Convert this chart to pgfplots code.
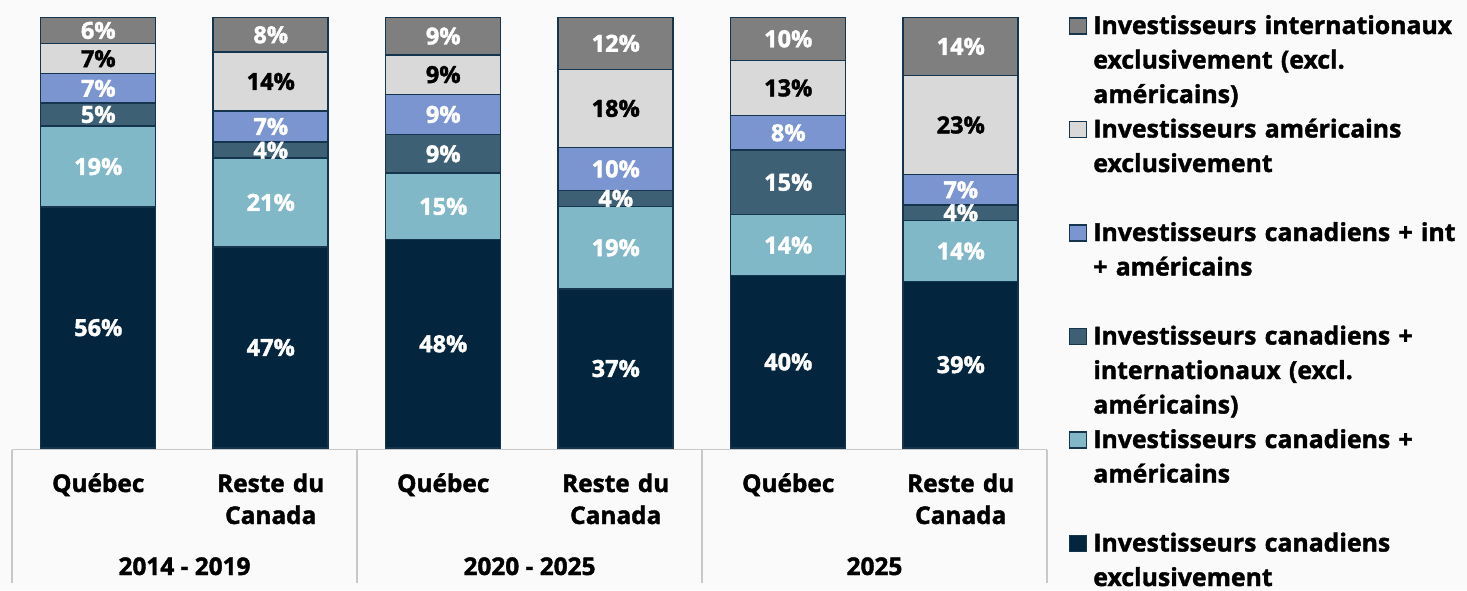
\documentclass[border=0pt]{standalone}
\usepackage{fontspec}
\setmainfont{Open Sans}[BoldFeatures={FakeBold=1.6}]
\usepackage{pgfplots}
\pgfplotsset{compat=1.18}
\usepackage{pgfplotstable}

\definecolor{bgcol}{HTML}{FAFAFA}
\definecolor{navycol}{HTML}{03253E}
\definecolor{tealcol}{HTML}{80B8C7}
\definecolor{slatecol}{HTML}{3E6075}
\definecolor{pericol}{HTML}{7B95D1}
\definecolor{lgraycol}{HTML}{D9D9D9}
\definecolor{graycol}{HTML}{7F7F7F}
\definecolor{bordcol}{HTML}{14354D}
\definecolor{sepcol}{HTML}{C8C8C8}

\pgfplotstableread{
x navy teal slate peri lgray gray
0 55.9 18.9 5.3 6.8 7.0 6.1
1 46.7 20.6 3.7 7.3 13.6 8.1
2 48.4 15.4 9.0 9.3 9.2 8.7
3 36.9 19.2 3.7 10.0 18.1 12.1
4 40.0 14.2 15.0 8.0 12.8 10.0
5 38.7 14.1 3.6 7.1 23.0 13.5
}\datatable

% label positions (segment centres) and texts
\pgfplotstableread{
x y lab
0 27.95 56
0 65.35 19
0 77.45 5
0 83.5 7
0 96.95 6
1 23.35 47
1 57.0 21
1 69.15 4
1 74.65 7
1 95.95 8
2 24.2 48
2 56.1 15
2 68.3 9
2 77.45 9
2 95.65 9
3 18.45 37
3 46.5 19
3 57.95 4
3 64.8 10
3 93.95 12
4 20.0 40
4 47.1 14
4 61.7 15
4 73.2 8
4 95.0 10
5 19.35 39
5 45.75 14
5 54.6 4
5 59.95 7
5 93.25 14
}\whitelabels

\pgfplotstableread{
x y lab
0 90.4 7
1 85.1 14
2 86.7 9
3 78.85 18
4 83.6 13
5 75.0 23
}\blacklabels

\newcommand\lblfont{\fontsize{11.8}{13}\selectfont\bfseries}
\newcommand\tckfont{\fontsize{12.2}{16}\selectfont\bfseries}
\newcommand\lgdfont{\fontsize{12.4}{17.25}\selectfont\bfseries}

\pgfplotsset{
  sqlegend/.style={legend image code/.code={\draw[##1,line width=0.7pt] (0pt,0pt) rectangle (8.5pt,8pt);}},
}

\begin{document}
\begin{tikzpicture}
\useasboundingbox (0,0) rectangle (733.5pt,295pt);
\fill[bgcol] (0,0) rectangle (733.5pt,295pt);
\begin{axis}[
  at={(6pt,71pt)}, anchor=south west,
  scale only axis, width=517.5pt, height=215.35pt,
  ybar stacked, bar width=57.5pt,
  xmin=-0.5, xmax=5.5, ymin=0, ymax=100,
  xtick={0,1,2,3,4,5},
  xticklabels={Québec,{Reste du\\Canada},Québec,{Reste du\\Canada},Québec,{Reste du\\Canada}},
  xticklabel style={font=\tckfont, text width=80pt, align=center, anchor=base, yshift=-22pt},
  ytick=\empty,
  axis line style={draw=none},
  major tick length=0pt,
  clip=false,
  reverse legend,
  legend cell align=left,
  legend style={at={(1.0212,1.003)}, anchor=north west, draw=none, fill=none,
    inner sep=0pt, outer sep=0pt, row sep=0pt,
    /tikz/every odd column/.append style={column sep=3pt},
    cells={anchor=base west},
    nodes={text width=188pt, align=left, inner sep=0pt, text height=9pt, text depth=42.75pt, font=\lgdfont}},
]
\addplot[fill=navycol, draw=bordcol, line width=0.75pt, sqlegend] table[x=x,y=navy]{\datatable};
\addlegendentry{Investisseurs canadiens\\exclusivement}
\addplot[fill=tealcol, draw=bordcol, line width=0.75pt, sqlegend] table[x=x,y=teal]{\datatable};
\addlegendentry{Investisseurs canadiens +\\américains}
\addplot[fill=slatecol, draw=bordcol, line width=0.75pt, sqlegend] table[x=x,y=slate]{\datatable};
\addlegendentry{Investisseurs canadiens +\\internationaux (excl.\\américains)}
\addplot[fill=pericol, draw=bordcol, line width=0.75pt, sqlegend] table[x=x,y=peri]{\datatable};
\addlegendentry{Investisseurs canadiens + int\\+ américains}
\addplot[fill=lgraycol, draw=bordcol, line width=0.75pt, sqlegend] table[x=x,y=lgray]{\datatable};
\addlegendentry{Investisseurs américains\\exclusivement}
\addplot[fill=graycol, draw=bordcol, line width=0.75pt, sqlegend] table[x=x,y=gray]{\datatable};
\addlegendentry{Investisseurs internationaux\\exclusivement (excl.\\américains)}

\draw[sepcol, line width=0.9pt] ([yshift=-0.75pt]axis cs:-0.5,0) -- ([yshift=-0.75pt]axis cs:5.5,0);
\draw[sepcol, line width=0.9pt] ([yshift=-0.75pt]axis cs:-0.5,0) -- ([yshift=-67.5pt]axis cs:-0.5,0);
\draw[sepcol, line width=0.9pt] ([yshift=-0.75pt]axis cs:1.5,0) -- ([yshift=-67.5pt]axis cs:1.5,0);
\draw[sepcol, line width=0.9pt] ([yshift=-0.75pt]axis cs:3.5,0) -- ([yshift=-67.5pt]axis cs:3.5,0);
\draw[sepcol, line width=0.9pt] ([yshift=-0.75pt]axis cs:5.5,0) -- ([yshift=-67.5pt]axis cs:5.5,0);
\node[anchor=base, font=\tckfont] at ([yshift=-63.5pt]axis cs:0.5,0) {2014 - 2019};
\node[anchor=base, font=\tckfont] at ([yshift=-63.5pt]axis cs:2.5,0) {2020 - 2025};
\node[anchor=base, font=\tckfont] at ([yshift=-63.5pt]axis cs:4.5,0) {2025};
\end{axis}

\begin{axis}[
  at={(6pt,71pt)}, anchor=south west,
  scale only axis, width=517.5pt, height=215.35pt,
  xmin=-0.5, xmax=5.5, ymin=0, ymax=100,
  hide axis, clip=false,
]
\addplot[draw=none, mark=none, point meta=explicit symbolic,
  nodes near coords={\pgfplotspointmeta\%},
  every node near coord/.style={anchor=center, text=white, font=\lblfont, inner sep=0pt}]
  table[x=x,y=y,meta=lab]{\whitelabels};
\addplot[draw=none, mark=none, point meta=explicit symbolic,
  nodes near coords={\pgfplotspointmeta\%},
  every node near coord/.style={anchor=center, text=black, font=\lblfont, inner sep=0pt}]
  table[x=x,y=y,meta=lab]{\blacklabels};
\end{axis}
\end{tikzpicture}
\end{document}
